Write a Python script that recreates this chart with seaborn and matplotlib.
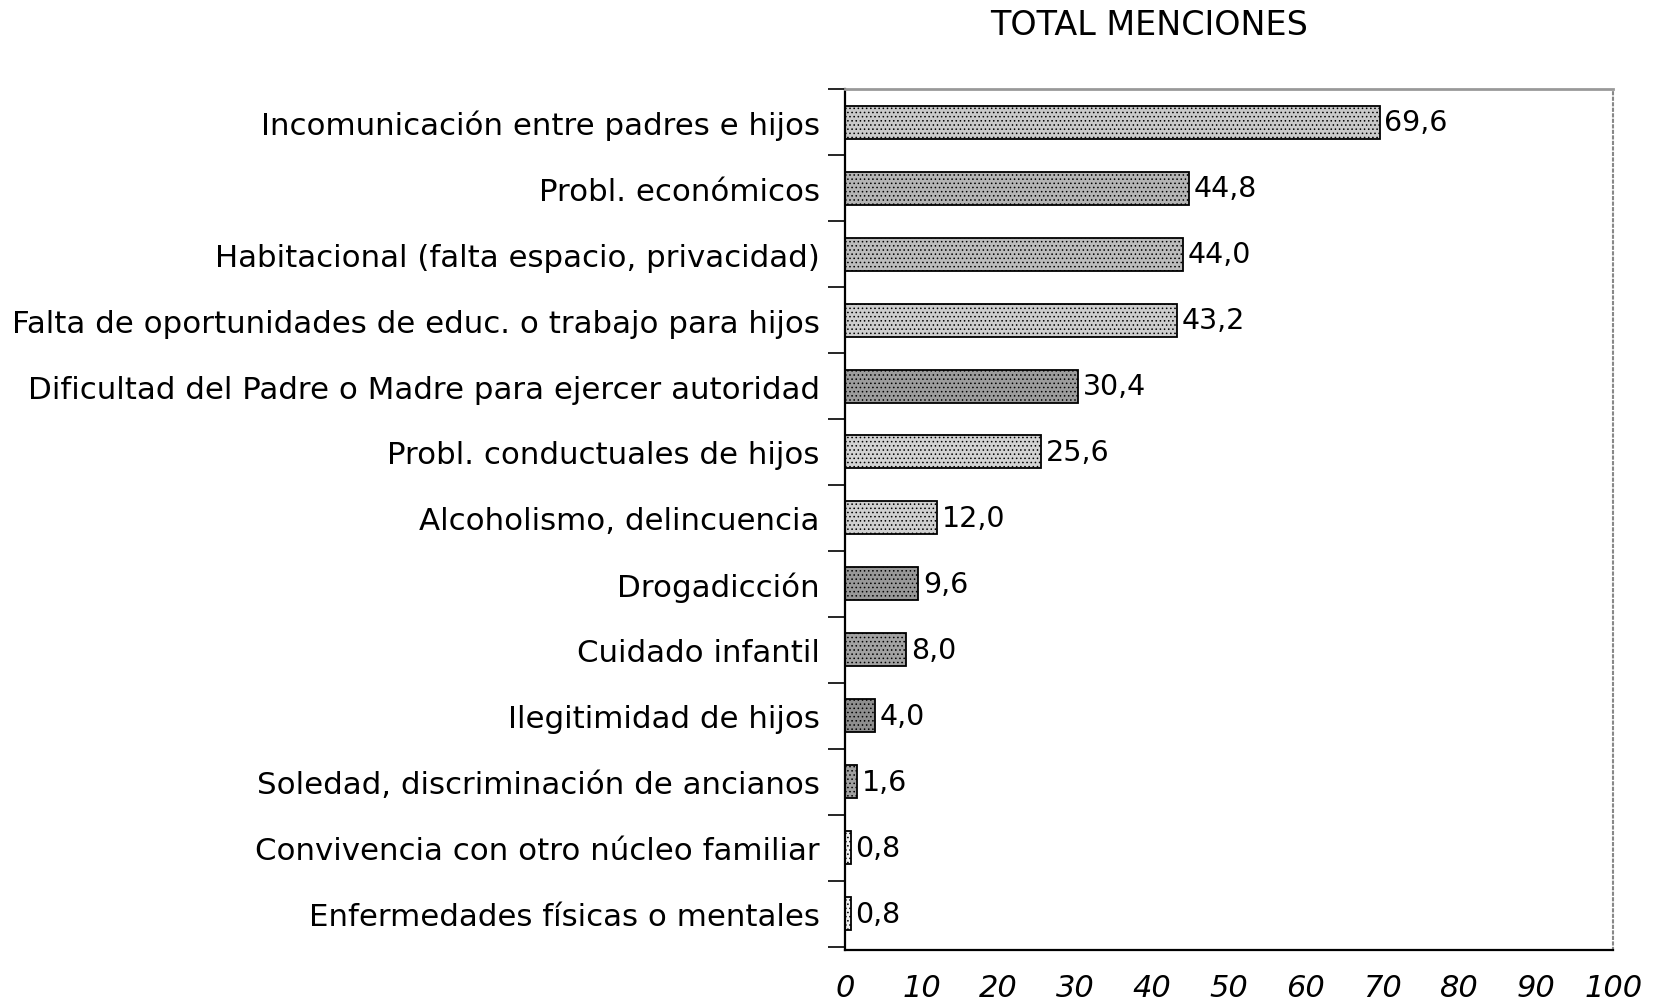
import numpy as np
import pandas as pd
import seaborn as sns
import matplotlib.pyplot as plt
from matplotlib.ticker import FixedLocator

# datos del grafico
categorias = [
    'Incomunicación entre padres e hijos',
    'Probl. económicos',
    'Habitacional (falta espacio, privacidad)',
    'Falta de oportunidades de educ. o trabajo para hijos',
    'Dificultad del Padre o Madre para ejercer autoridad',
    'Probl. conductuales de hijos',
    'Alcoholismo, delincuencia',
    'Drogadicción',
    'Cuidado infantil',
    'Ilegitimidad de hijos',
    'Soledad, discriminación de ancianos',
    'Convivencia con otro núcleo familiar',
    'Enfermedades físicas o mentales',
]
menciones = [69.6, 44.8, 44.0, 43.2, 30.4, 25.6, 12.0, 9.6, 8.0, 4.0, 1.6, 0.8, 0.8]
tonos = ['#c9c9c9', '#b4b4b4', '#bcbcbc', '#cdcdcd', '#9c9c9c', '#d2d2d2', '#d0d0d0',
         '#989898', '#a2a2a2', '#8e8e8e', '#a0a0a0', '#f2f2f2', '#f2f2f2']
ticks_x = [0, 10, 20, 30, 40, 50, 60, 70, 80, 90, 100]

df = pd.DataFrame({'categoria': categorias, 'valor': menciones})

sns.set_style('white')
plt.rcParams['font.family'] = ['DejaVu Sans']
plt.rcParams['text.color'] = 'black'
plt.rcParams['xtick.color'] = 'black'
plt.rcParams['ytick.color'] = 'black'
plt.rcParams['hatch.linewidth'] = 0.6

fig = plt.figure(figsize=(16.53, 10.03), dpi=100)
ax = fig.add_axes([0.511, 0.052, 0.465, 0.858])

sns.barplot(data=df, y='categoria', x='valor', hue='categoria', palette=tonos,
            orient='h', width=0.5, legend=False, ax=ax,
            edgecolor='black', linewidth=1.3)

# textura punteada de las barras
for p in ax.patches:
    p.set_hatch('....')

# etiquetas de valor con coma decimal
for i, v in enumerate(menciones):
    ax.text(v + 0.6, i, f'{v:.1f}'.replace('.', ','), va='center', ha='left', fontsize=20.5)

ax.set_xlim(0, 100)
ax.set_ylim(12.55, -0.5)
ax.set_xticks(ticks_x)
ax.set_xticklabels([str(t) for t in ticks_x], fontsize=22, style='italic')
ax.tick_params(axis='x', direction='out', length=10, width=1.2, pad=7)

ax.set_yticks(range(len(categorias)))
ax.set_yticklabels(categorias, fontsize=22.2)
ax.tick_params(axis='y', which='major', length=0, pad=18)
ax.yaxis.set_minor_locator(FixedLocator(np.arange(-0.5, len(categorias), 1.0)))
ax.tick_params(axis='y', which='minor', direction='out', length=12, width=1.2, left=True)

ax.set_xlabel('')
ax.set_ylabel('')

for lado in ['left', 'bottom']:
    ax.spines[lado].set_color('black')
    ax.spines[lado].set_linewidth(1.6)
ax.spines['top'].set_color('#999999')
ax.spines['top'].set_linewidth(2)
ax.spines['right'].set_color('#888888')
ax.spines['right'].set_linestyle(':')
ax.spines['right'].set_linewidth(1.5)

fig.text(0.695, 0.975, 'TOTAL MENCIONES', ha='center', va='center', fontsize=24)

plt.savefig('out.png', dpi=100)
plt.close()
